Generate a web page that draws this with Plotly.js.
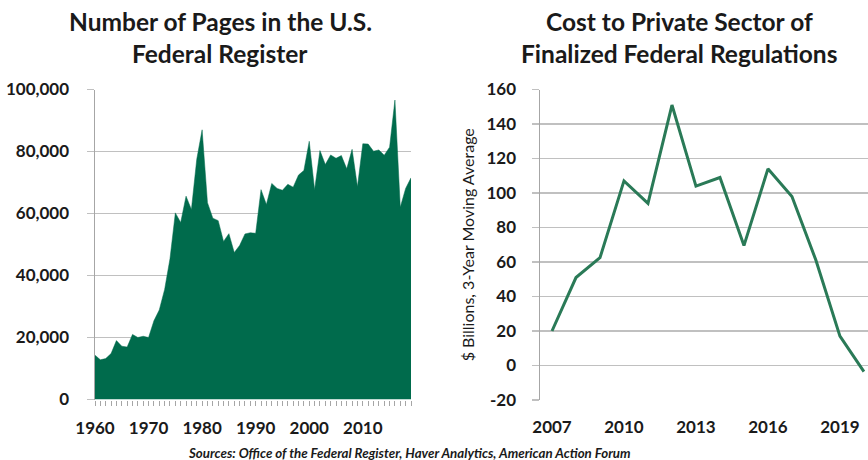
<!DOCTYPE html>
<html>
<head>
<meta charset="utf-8">
<script src="https://cdn.plot.ly/plotly-3.0.1.min.js"></script>
<style>html,body{margin:0;padding:0;background:#fff;overflow:hidden}#chart{width:868px;height:460px}</style>
</head>
<body>
<div id="chart"></div>
<script>
// Left chart: Number of Pages in the U.S. Federal Register
const pageYears = [1960,1961,1962,1963,1964,1965,1966,1967,1968,1969,
  1970,1971,1972,1973,1974,1975,1976,1977,1978,1979,
  1980,1981,1982,1983,1984,1985,1986,1987,1988,1989,
  1990,1991,1992,1993,1994,1995,1996,1997,1998,1999,
  2000,2001,2002,2003,2004,2005,2006,2007,2008,2009,
  2010,2011,2012,2013,2014,2015,2016,2017,2018,2019];
const pageCounts = [14300,12800,13200,14800,19000,17200,16900,21000,20000,20400,
  20000,25400,28900,35500,45400,60200,57100,65600,61300,77500,
  87000,63500,58500,57700,51000,53500,47400,49700,53400,53800,
  53600,67700,62900,69700,68100,67500,69400,68500,72400,73900,
  83300,67700,80300,75800,78900,77800,78700,74400,80700,68600,
  82500,82400,80100,80500,78800,81400,96600,62000,68100,71500];

// Right chart: Cost to Private Sector of Finalized Federal Regulations
const costYears = [2007,2008,2009,2010,2011,2012,2013,2014,2015,2016,2017,2018,2019,2020];
const costValues = [20,51,62.5,107,94,151,104,109,69.5,114,98,61,17,-3.5];

const leftTickVals = [1960,1970,1980,1990,2000,2010];
const leftTickText = ['1960','1970','1980','1990','2000','2010'];
const rightTickVals = [2007,2010,2013,2016,2019];
const rightTickText = ['2007','2010','2013','2016','2019'];

const leftTitle = ['Number of Pages in the U.S.', 'Federal Register'];
const rightTitle = ['Cost to Private Sector of', 'Finalized Federal Regulations'];
const yTitleRight = '$ Billions, 3-Year Moving Average';
const sourceText = 'Sources: Office of the Federal Register, Haver Analytics, American Action Forum';

const FONT = 'Lato, "Open Sans", sans-serif';
const TXT = '#1a1a1a';
const GRID = '#c0c0c0';
const AXIS = '#a6a6a6';

const traces = [
  {x: pageYears, y: pageCounts, type: 'scatter', mode: 'lines', fill: 'tozeroy',
   fillcolor: '#006b4c', line: {color: '#006b4c', width: 0.5}, xaxis: 'x', yaxis: 'y',
   hoverinfo: 'x+y'},
  {x: costYears, y: costValues, type: 'scatter', mode: 'lines',
   line: {color: '#2a7a57', width: 3}, xaxis: 'x2', yaxis: 'y2'}
];

const tickFont = {family: FONT, size: 17, color: TXT, weight: 700};
const titleFont = {family: FONT, size: 24.5, color: TXT, weight: 700};

const layout = {
  width: 868, height: 460,
  margin: {l: 0, r: 0, t: 0, b: 0},
  paper_bgcolor: '#fff', plot_bgcolor: '#fff',
  showlegend: false,
  font: {family: FONT, color: TXT},
  xaxis: {domain: [95/868, 411/868], range: [1960, 2019], anchor: 'y',
    tickvals: leftTickVals, ticktext: leftTickText, tickfont: tickFont,
    showgrid: false, zeroline: false, showline: false,
    ticks: 'outside', ticklen: 5, tickcolor: AXIS, tickwidth: 1,
    minor: {tickvals: pageYears, ticks: 'outside', ticklen: 5, tickcolor: AXIS, tickwidth: 1, showgrid: false},
    ticklabelstandoff: 8},
  yaxis: {domain: [60.5/460, 370.5/460], range: [0, 100000], anchor: 'x',
    tickvals: [0,20000,40000,60000,80000,100000],
    ticktext: ['0','20,000','40,000','60,000','80,000','100,000'],
    tickfont: tickFont, showgrid: true, gridcolor: GRID, gridwidth: 1.5,
    zeroline: false, showline: true, linecolor: AXIS, linewidth: 1.5,
    ticks: 'outside', ticklen: 7, tickcolor: GRID, tickwidth: 1.5,
    ticklabelstandoff: 14},
  xaxis2: {domain: [540/868, 1], range: [2006.5, 2020.17], anchor: 'y2',
    tickvals: rightTickVals, ticktext: rightTickText, tickfont: tickFont,
    showgrid: false, zeroline: false, showline: false, ticks: '',
    ticklabelstandoff: 15},
  yaxis2: {domain: [60/460, 370.5/460], range: [-20, 160], anchor: 'x2',
    tickvals: [-20,0,20,40,60,80,100,120,140,160],
    ticktext: ['-20','0','20','40','60','80','100','120','140','160'],
    tickfont: tickFont, showgrid: true, gridcolor: GRID, gridwidth: 1.5,
    zeroline: false, showline: true, linecolor: AXIS, linewidth: 1.5,
    ticks: 'outside', ticklen: 7, tickcolor: GRID, tickwidth: 1.5,
    ticklabelstandoff: 12,
    title: {text: yTitleRight, font: {family: FONT, size: 16, color: TXT}, standoff: 8}},
  annotations: [
    {text: leftTitle[0], x: 220/868, y: 1 - 22/460, xref: 'paper', yref: 'paper', showarrow: false,
     xanchor: 'center', yanchor: 'middle', font: titleFont},
    {text: leftTitle[1], x: 220/868, y: 1 - 54/460, xref: 'paper', yref: 'paper', showarrow: false,
     xanchor: 'center', yanchor: 'middle', font: titleFont},
    {text: rightTitle[0], x: 679/868, y: 1 - 22/460, xref: 'paper', yref: 'paper', showarrow: false,
     xanchor: 'center', yanchor: 'middle', font: titleFont},
    {text: rightTitle[1], x: 679/868, y: 1 - 54/460, xref: 'paper', yref: 'paper', showarrow: false,
     xanchor: 'center', yanchor: 'middle', font: titleFont},
    {text: sourceText, x: 409/868, y: 1 - 453/460, xref: 'paper', yref: 'paper', showarrow: false,
     xanchor: 'center', yanchor: 'middle', font: {family: FONT, size: 13.3, color: TXT, weight: 700, style: 'italic'}}
  ]
};

Plotly.newPlot('chart', traces, layout, {staticPlot: true, displayModeBar: false});
</script>
</body>
</html>
